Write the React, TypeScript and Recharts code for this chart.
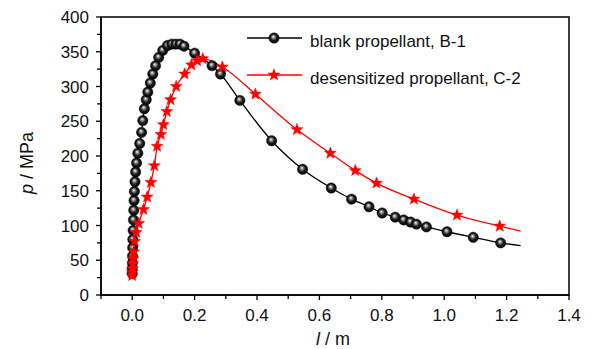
import React from "react";
import { ComposedChart, Line, XAxis, YAxis, ReferenceArea } from "recharts";

// l (m) and p (MPa) for the two propellants
const blankLength = [
  0.0, 0.0003, 0.0006, 0.001, 0.0015, 0.002, 0.003, 0.004, 0.005, 0.006, 0.007, 0.009, 0.011, 0.014, 0.018,
  0.024, 0.03, 0.034, 0.039, 0.045, 0.05, 0.058, 0.066, 0.075, 0.085, 0.098, 0.113, 0.127, 0.14, 0.153, 0.166,
  0.2, 0.256, 0.283, 0.345, 0.447, 0.546, 0.638, 0.703, 0.759, 0.801, 0.843, 0.87, 0.892, 0.911, 0.943, 1.009,
  1.093, 1.181,
];
const blankPressure = [
  31, 38, 46, 56, 68, 80, 93, 108, 122, 136, 149, 163, 177, 190, 204, 218, 234, 251, 268, 281, 292, 305, 318,
  330, 342, 352, 359, 361, 361, 361, 358, 348, 330, 318, 280, 222, 181, 154, 138, 127, 118, 112, 108, 105, 102,
  98, 91, 83, 75,
];
const desenLength = [
  0.0, 0.0005, 0.001, 0.002, 0.003, 0.005, 0.008, 0.013, 0.021, 0.036, 0.048, 0.06, 0.071, 0.08, 0.092, 0.1,
  0.111, 0.123, 0.141, 0.168, 0.19, 0.208, 0.226, 0.289, 0.395, 0.528, 0.635, 0.715, 0.783, 0.903, 1.041, 1.178,
];
const desenPressure = [
  28, 33, 38, 45, 52, 62, 77, 90, 103, 123, 141, 162, 186, 214, 231, 245, 264, 281, 300, 318, 331, 337, 340,
  328, 289, 238, 204, 179, 161, 138, 115, 99,
];
// fitted curves run a little past the last measured point
const blankTail = { l: 1.245, p: 71 };
const desenTail = { l: 1.245, p: 92 };

const xTicks = [-0.1, 0, 0.1, 0.2, 0.3, 0.4, 0.5, 0.6, 0.7, 0.8, 0.9, 1.0, 1.1, 1.2, 1.3, 1.4];
const yTicks = [0, 25, 50, 75, 100, 125, 150, 175, 200, 225, 250, 275, 300, 325, 350, 375, 400];

const legendNames = ["blank propellant, B-1", "desensitized propellant, C-2"];

const blankData = [...blankLength.map((l, i) => ({ l, p: blankPressure[i] })), blankTail];
const desenData = [...desenLength.map((l, i) => ({ l, p: desenPressure[i] })), desenTail];

const FONT = "'Liberation Sans', Arial, sans-serif";
const RED = "#ff0000";

function starPath(cx: number, cy: number, R: number, r: number) {
  let d = "";
  for (let k = 0; k < 10; k++) {
    const a = -Math.PI / 2 + (k * Math.PI) / 5;
    const rad = k % 2 === 0 ? R : r;
    d += (k === 0 ? "M" : "L") + (cx + rad * Math.cos(a)).toFixed(2) + "," + (cy + rad * Math.sin(a)).toFixed(2);
  }
  return d + "Z";
}

function Ball({ cx, cy }: { cx: number; cy: number }) {
  return <circle cx={cx} cy={cy} r={5.2} fill="url(#ballGrad)" stroke="#000" strokeWidth={0.4} />;
}

function Star({ cx, cy }: { cx: number; cy: number }) {
  return <path d={starPath(cx, cy, 6.2, 2.6)} fill={RED} stroke={RED} strokeWidth={0.5} />;
}

const renderBall = (props: any) => {
  const { cx, cy, index } = props;
  if (index >= blankLength.length || cx == null) return <g key={`b${index}`} />;
  return <Ball key={`b${index}`} cx={cx} cy={cy} />;
};

const renderStar = (props: any) => {
  const { cx, cy, index } = props;
  if (index >= desenLength.length || cx == null) return <g key={`s${index}`} />;
  return <Star key={`s${index}`} cx={cx} cy={cy} />;
};

const isMajorX = (v: number) => v >= 0 && Math.round(v * 10) % 2 === 0;

const XTick = (props: any) => {
  const { x, y, payload } = props;
  const v = payload.value as number;
  const major = isMajorX(v);
  return (
    <g>
      <line x1={x} y1={y} x2={x} y2={y + (major ? 5 : 4)} stroke="#000" strokeWidth={1.3} />
      {major && (
        <text x={x} y={y + 14} dy="0.71em" textAnchor="middle" fontSize={17} fontFamily={FONT} fill="#111">
          {v.toFixed(1)}
        </text>
      )}
    </g>
  );
};

const YTick = (props: any) => {
  const { x, y, payload } = props;
  const v = payload.value as number;
  const major = v % 50 === 0;
  return (
    <g>
      <line x1={x - (major ? 5 : 4)} y1={y} x2={x} y2={y} stroke="#000" strokeWidth={1.3} />
      {major && (
        <text x={x - 12} y={y} dy="0.355em" textAnchor="end" fontSize={17} fontFamily={FONT} fill="#111">
          {v}
        </text>
      )}
    </g>
  );
};

export default function App() {
  return (
    <div style={{ position: "absolute", left: 0, top: 0, width: 592, height: 349, background: "#fff" }}>
      <ComposedChart width={592} height={349} margin={{ top: 17, right: 23, left: 0, bottom: 0 }}>
        <defs>
          <radialGradient id="ballGrad" cx="0.5" cy="0.5" r="0.55" fx="0.42" fy="0.36">
            <stop offset="0%" stopColor="#ffffff" />
            <stop offset="22%" stopColor="#9a9a9a" />
            <stop offset="55%" stopColor="#1c1c1c" />
            <stop offset="100%" stopColor="#000000" />
          </radialGradient>
        </defs>
        <XAxis
          type="number"
          dataKey="l"
          domain={[-0.1, 1.4]}
          ticks={xTicks}
          interval={0}
          height={54}
          tickSize={0}
          tickMargin={0}
          tickLine={false}
          tick={<XTick />}
          axisLine={{ stroke: "#000", strokeWidth: 1.5 }}
        />
        <YAxis
          type="number"
          dataKey="p"
          domain={[0, 400]}
          ticks={yTicks}
          interval={0}
          width={101}
          tickSize={0}
          tickMargin={0}
          tickLine={false}
          tick={<YTick />}
          axisLine={{ stroke: "#000", strokeWidth: 1.5 }}
        />
        <ReferenceArea x1={-0.1} x2={1.4} y1={0} y2={400} fill="none" stroke="#000" strokeWidth={1.5} />
        <Line
          data={blankData}
          dataKey="p"
          type="monotone"
          stroke="#000"
          strokeWidth={1.3}
          dot={renderBall}
          activeDot={false}
          isAnimationActive={false}
        />
        <Line
          data={desenData}
          dataKey="p"
          type="monotone"
          stroke={RED}
          strokeWidth={1.3}
          dot={renderStar}
          activeDot={false}
          isAnimationActive={false}
        />
      </ComposedChart>
      <svg
        width={592}
        height={349}
        style={{ position: "absolute", left: 0, top: 0, pointerEvents: "none" }}
      >
        {/* legend */}
        <line x1={247} y1={38} x2={302} y2={38} stroke="#000" strokeWidth={1.3} />
        <Ball cx={274} cy={38} />
        <text x={310} y={47} fontSize={17} fontFamily={FONT} fill="#111">
          {legendNames[0]}
        </text>
        <line x1={247} y1={75} x2={302} y2={75} stroke={RED} strokeWidth={1.3} />
        <Star cx={274} cy={75} />
        <text x={310} y={84} fontSize={17} fontFamily={FONT} fill="#111">
          {legendNames[1]}
        </text>
        {/* axis titles */}
        <text
          transform="translate(27,163) rotate(-90)"
          textAnchor="middle"
          dy="0.35em"
          fontSize={18}
          fontFamily={FONT}
          fill="#111"
        >
          <tspan fontStyle="italic">p</tspan> / MPa
        </text>
        <text x={333} y={345} textAnchor="middle" fontSize={18} fontFamily={FONT} fill="#111">
          <tspan fontStyle="italic">l</tspan> / m
        </text>
      </svg>
    </div>
  );
}
